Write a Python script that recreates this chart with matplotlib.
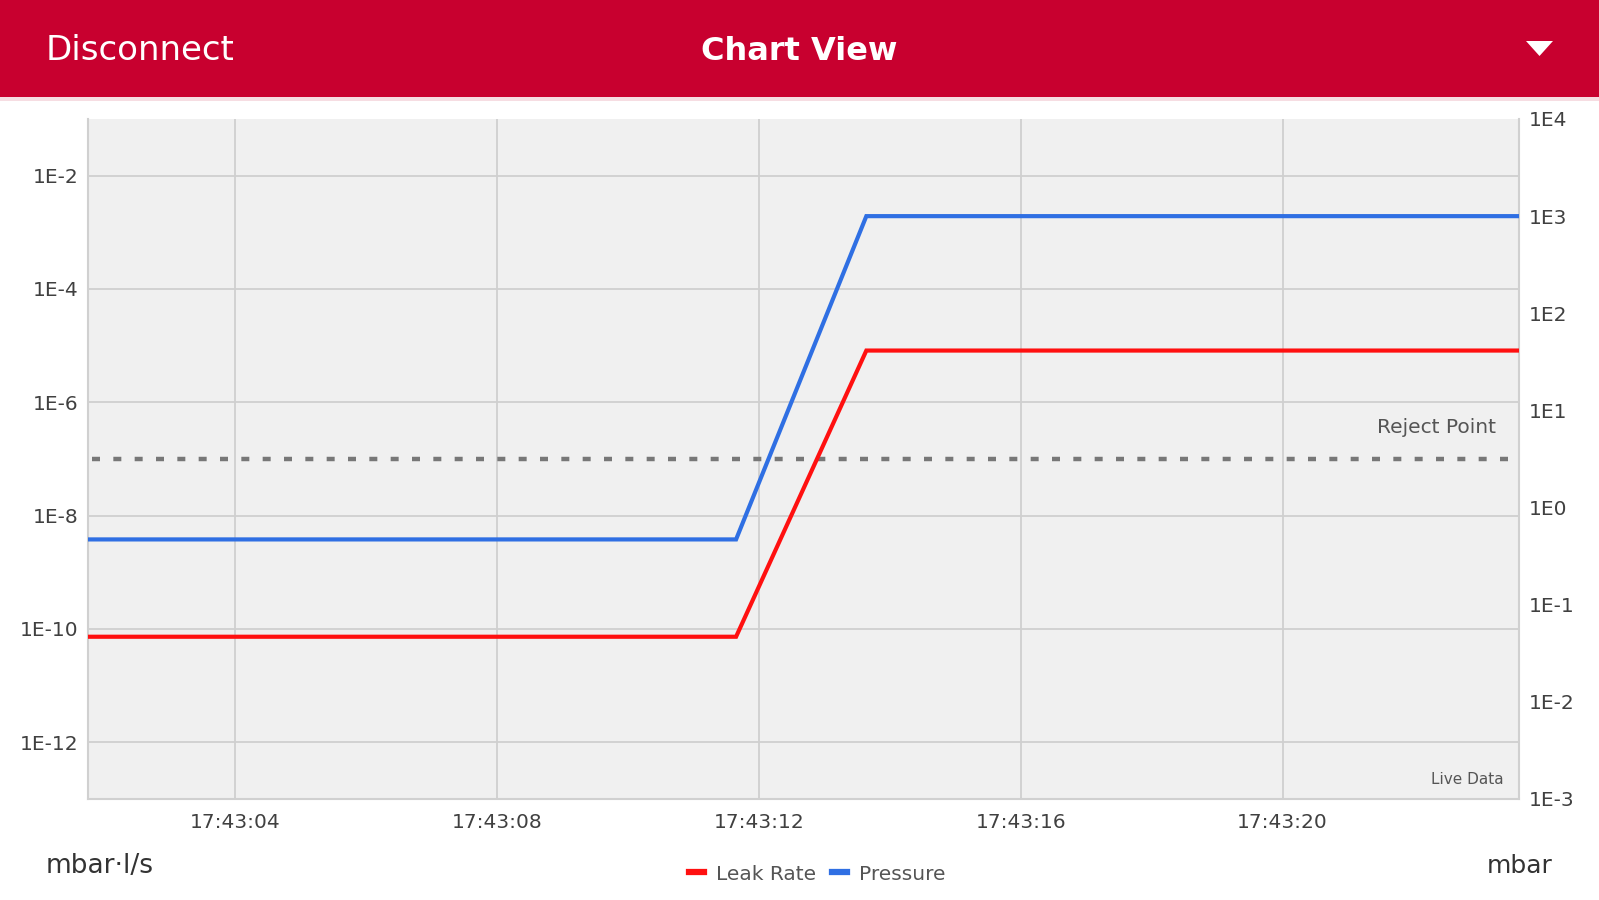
import numpy as np
import pandas as pd
import matplotlib
matplotlib.use("Agg")
import matplotlib.pyplot as plt
import matplotlib.dates as mdates
from matplotlib.ticker import FixedLocator, FuncFormatter, NullLocator
from matplotlib.lines import Line2D
from matplotlib.patches import Rectangle, Polygon

# ---------------- data ----------------
times = ["17:43:01.75", "17:43:03.73", "17:43:05.71", "17:43:07.69",
         "17:43:09.67", "17:43:11.65", "17:43:13.64", "17:43:15.63",
         "17:43:17.62", "17:43:19.62", "17:43:21.61", "17:43:23.61"]
leak_rate = [7.3e-11, 7.3e-11, 7.3e-11, 7.3e-11, 7.3e-11, 7.3e-11,
             8.2e-6, 8.2e-6, 8.2e-6, 8.2e-6, 8.2e-6, 8.2e-6]
pressure = [0.47, 0.47, 0.47, 0.47, 0.47, 0.47,
            1000, 1000, 1000, 1000, 1000, 1000]
reject_point = 1e-7
left_ticks = [1e-12, 1e-10, 1e-8, 1e-6, 1e-4, 1e-2]
left_lim = (1e-13, 1e-1)
right_ticks = [1e-3, 1e-2, 1e-1, 1e0, 1e1, 1e2, 1e3, 1e4]
right_lim = (1e-3, 1e4)
series_names = ["Leak Rate", "Pressure"]
title = "Chart View"
left_button = "Disconnect"
left_unit = "mbar\u00b7l/s"
right_unit = "mbar"

# ---------------- style ----------------
RED_HEADER = "#C8002F"
RED = "#FF1010"
BLUE = "#2F6FE3"
GRID = "#CFCFCF"
TXT = "#404040"
FONT = "DejaVu Sans"
plt.rcParams["font.family"] = [FONT]

W, H = 1599, 900
fig = plt.figure(figsize=(W / 100, H / 100), dpi=100)
fig.patch.set_facecolor("white")

# header band
fig.add_artist(Rectangle((0, 1 - 97 / H), 1, 97 / H, transform=fig.transFigure,
                         facecolor=RED_HEADER, edgecolor="none", zorder=0))
fig.add_artist(Rectangle((0, 1 - 101 / H), 1, 4 / H, transform=fig.transFigure,
                         facecolor="#F6DDE2", edgecolor="none", zorder=0))
fig.text(46 / W, 1 - 51 / H, left_button, color="white", fontsize=24.5,
         ha="left", va="center")
fig.text(0.5, 1 - 51 / H, title, color="white", fontsize=23, fontweight="bold",
         ha="center", va="center")
tri = Polygon([[1526 / W, 1 - 41 / H], [1553 / W, 1 - 41 / H], [1539.5 / W, 1 - 56 / H]],
              closed=True, transform=fig.transFigure, facecolor="white", edgecolor="none")
fig.add_artist(tri)

# axes
L, R, B, T = 88 / W, 1519 / W, 1 - 799 / H, 1 - 119 / H
ax = fig.add_axes([L, B, R - L, T - B])
ax.set_facecolor("#F0F0F0")

t = pd.to_datetime(["2000-01-01 " + s for s in times])

ax.set_yscale("log")
ax.set_ylim(*left_lim)
ax.set_xlim(t[0], t[-1])
ax.yaxis.set_major_locator(FixedLocator(left_ticks))
ax.yaxis.set_minor_locator(NullLocator())
fmt = FuncFormatter(lambda v, p: "1E%d" % int(round(np.log10(v))))
ax.yaxis.set_major_formatter(fmt)
ax.xaxis.set_major_locator(mdates.SecondLocator(bysecond=range(0, 60, 4)))
ax.xaxis.set_major_formatter(mdates.DateFormatter("%H:%M:%S"))
ax.grid(True, color=GRID, lw=1.3, zorder=0)
ax.set_axisbelow(True)
ax.tick_params(axis="y", length=0, pad=7, labelsize=14.5, labelcolor=TXT)
ax.tick_params(axis="x", length=0, pad=10, labelsize=14.5, labelcolor=TXT)
ax.spines["top"].set_visible(False)
for s in ["left", "bottom", "right"]:
    ax.spines[s].set_color("#D0D0D0")
    ax.spines[s].set_linewidth(1.5)

ax.axhline(reject_point, xmin=0.003, xmax=0.993, color="#777777", lw=3.2,
           dashes=(1.8, 3.0), dash_capstyle="butt", zorder=2)
ax.text(0.984, 0.547, "Reject Point", transform=ax.transAxes, ha="right",
        va="center", fontsize=14.5, color="#555555")
ax.text(0.989, 0.028, "Live Data", transform=ax.transAxes, ha="right",
        va="center", fontsize=11, color="#555555")

ax.plot(t, leak_rate, color=RED, lw=3, zorder=3, solid_joinstyle="miter")

ax2 = ax.twinx()
ax2.set_yscale("log")
ax2.set_ylim(*right_lim)
ax2.yaxis.set_major_locator(FixedLocator(right_ticks))
ax2.yaxis.set_minor_locator(NullLocator())
ax2.yaxis.set_major_formatter(fmt)
ax2.tick_params(axis="y", length=0, pad=7, labelsize=14.5, labelcolor=TXT)
for s in ax2.spines.values():
    s.set_visible(False)
ax2.plot(t, pressure, color=BLUE, lw=3, zorder=3, solid_joinstyle="miter")

# units
fig.text(46 / W, 1 - 866 / H, left_unit, fontsize=19, color="#333333",
         ha="left", va="center")
fig.text(1553 / W, 1 - 866 / H, right_unit, fontsize=18, color="#333333",
         ha="right", va="center")

# legend
handles = [Line2D([0], [0], color=RED, lw=4.5), Line2D([0], [0], color=BLUE, lw=4.5)]
fig.legend(handles, series_names, loc="center", bbox_to_anchor=(0.511, 1 - 874 / H),
           ncol=2, frameon=False, fontsize=14.5, handlelength=0.75,
           handletextpad=0.6, columnspacing=0.8, labelcolor="#555555")

fig.savefig("out.png", dpi=100, facecolor="white")
